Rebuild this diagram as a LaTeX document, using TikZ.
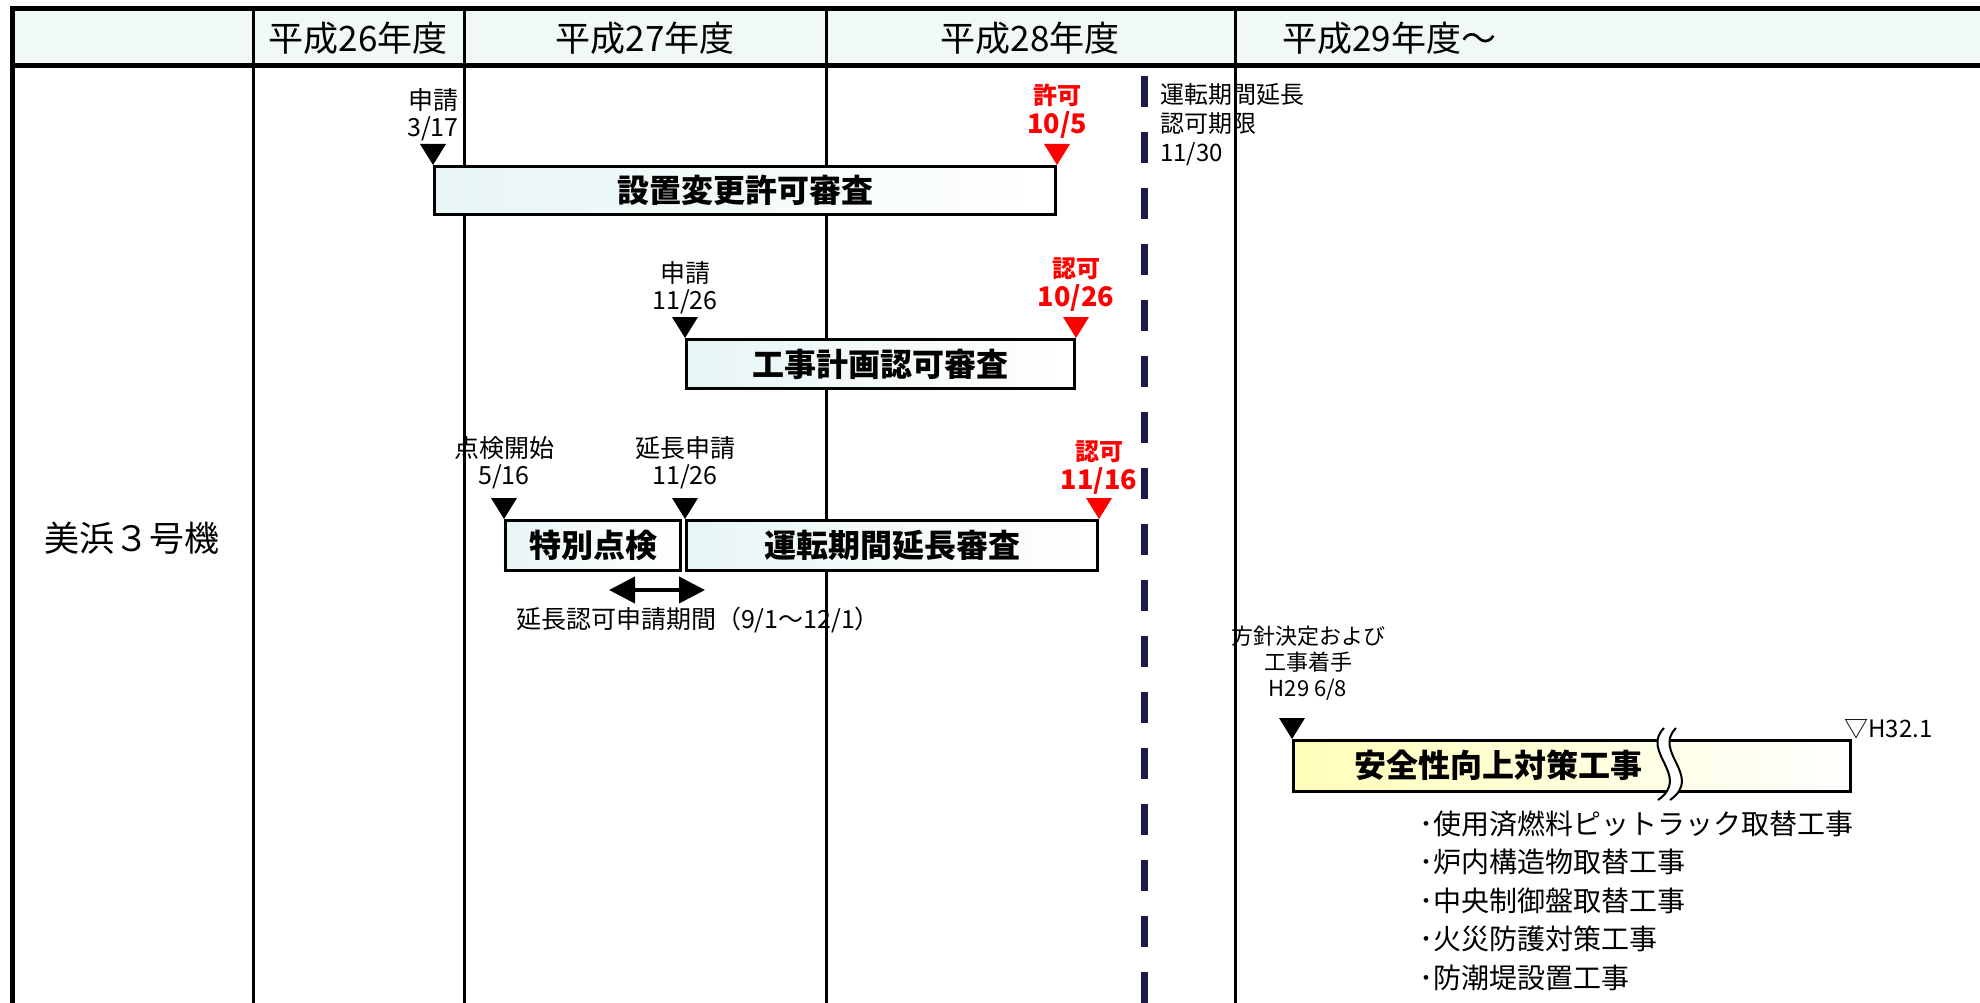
\documentclass[tikz,border=0pt]{standalone}
\usepackage{fontspec}
\setmainfont{Noto Sans CJK JP}
\usetikzlibrary{positioning,arrows.meta}

\definecolor{headfill}{RGB}{240,249,248}
\definecolor{barcyan}{RGB}{232,245,245}
\definecolor{baryellow}{RGB}{255,255,185}
\definecolor{limitnavy}{RGB}{28,28,72}
\definecolor{okred}{RGB}{255,0,0}

\tikzset{
  head/.style={inner sep=0pt, font=\fontsize{35}{40}\selectfont},
  bar/.style={draw, line width=3pt, left color=barcyan, right color=white,
    anchor=north west, inner sep=0pt, font=\fontsize{32}{38}\selectfont\bfseries},
  lbl/.style={align=center, inner sep=0pt, font=\fontsize{25}{27}\selectfont},
  redlbl/.style={align=center, inner sep=0pt, text=okred, font=\fontsize{27}{29}\selectfont\bfseries},
  work/.style={inner sep=0pt, font=\fontsize{28}{34}\selectfont},
  limit/.style={line width=7pt, draw=limitnavy, dash pattern=on 31pt off 25pt},
  span/.style={line width=4pt, {Triangle[length=26pt,width=26pt]}-{Triangle[length=26pt,width=26pt]}}
}
\newcommand{\dropmark}[2]{\fill[#1] (#2) -- ++(-13,-21) -- ++(26,0) -- cycle;}
\newcommand{\okword}[1]{{\fontsize{24}{29}\selectfont #1}}

\begin{document}
\begin{tikzpicture}[x=1pt,y=-1pt]
  \useasboundingbox (0,0) rectangle (1980,1003);
  % header row and grid
  \fill[headfill] (12,9) rectangle (1980,66);
  \draw[line width=5pt] (10,9) -- (1980,9);
  \draw[line width=5pt] (10,66) -- (1980,66);
  \draw[line width=5pt] (12,7) -- (12,1003);
  \foreach \x in {253,464,826,1235}
    \draw[line width=3pt] (\x,9) -- (\x,1003);
  \draw[limit] (1144,76) -- (1144,1003);

  \node[head] (h26) at (358,38) {平成26年度};
  \node[head] (h27) at (645,38) {平成27年度};
  \node[head] (h28) at (1030,38) {平成28年度};
  \node[head, anchor=west] (h29) at (1282,38) {平成29年度～};
  \node[head] (unit) at (132,538) {美浜３号機};

  % reviews
  \node[bar, minimum width=621pt, minimum height=48pt] (setchi) at (433,165) {設置変更許可審査};
  \dropmark{black}{setchi.north west}
  \dropmark{okred}{setchi.north east}
  \node[lbl, above=24pt of setchi.north west] (app1) {申請\\3/17};
  \node[redlbl, above=26pt of setchi.north east] (ok1) {\okword{許可}\\10/5};

  \node[bar, minimum width=388pt, minimum height=49pt] (kouji) at (685,338) {工事計画認可審査};
  \dropmark{black}{kouji.north west}
  \dropmark{okred}{kouji.north east}
  \node[lbl, above=24pt of kouji.north west] (app2) {申請\\11/26};
  \node[redlbl, above=26pt of kouji.north east] (ok2) {\okword{認可}\\10/26};

  \node[bar, minimum width=175pt, minimum height=50pt] (tokubetsu) at (504,519) {特別点検};
  \node[bar, minimum width=411pt, minimum height=50pt] (unten) at (685,519) {運転期間延長審査};
  \dropmark{black}{tokubetsu.north west}
  \dropmark{black}{unten.north west}
  \dropmark{okred}{unten.north east}
  \node[lbl, above=30pt of tokubetsu.north west] (start3) {点検開始\\5/16};
  \node[lbl, above=30pt of unten.north west] (app3) {延長申請\\11/26};
  \node[redlbl, above=24pt of unten.north east] (ok3) {\okword{認可}\\11/16};

  \coordinate (pfrom) at (609,590);
  \coordinate (pto) at (705,590);
  \draw[span] (pfrom) -- (pto);
  \node[lbl] (kikan) at (698,620) {延長認可申請期間（9/1～12/1）};

  \node[lbl, anchor=north west, align=left, font=\fontsize{24}{29}\selectfont] (kigen) at (1160,83) {運転期間延長\\認可期限\\11/30};

  % safety works
  \node[bar, left color=baryellow, minimum width=557pt, minimum height=51pt] (anzen) at (1292,739) {};
  \node[inner sep=0pt, font=\fontsize{32}{38}\selectfont\bfseries] (anzentxt) at (1498,765) {安全性向上対策工事};
  \fill[white] (1664,728) .. controls (1640,752) and (1692,776) .. (1658,800) -- (1670,800) .. controls (1704,776) and (1652,752) .. (1676,728) -- cycle;
  \draw[line width=2pt] (1664,728) .. controls (1640,752) and (1692,776) .. (1658,800);
  \draw[line width=2pt] (1676,728) .. controls (1652,752) and (1704,776) .. (1670,800);
  \dropmark{black}{anzen.north west}
  \node[lbl, font=\fontsize{22}{26}\selectfont, above=38pt of anzen.north west, xshift=16pt] (houshin) {方針決定および\\工事着手\\H29 6/8};
  \node[lbl, font=\fontsize{24}{30}\selectfont, anchor=south west] (h32) at ([xshift=-8pt]anzen.north east) {▽H32.1};

  \foreach \job [count=\i] in {使用済燃料ピットラック取替工事, 炉内構造物取替工事, 中央制御盤取替工事, 火災防護対策工事, 防潮堤設置工事}
    \node[work, anchor=base west] (w\i) at (1419,{834+38.5*(\i-1)}) {･\job};
\end{tikzpicture}
\end{document}
